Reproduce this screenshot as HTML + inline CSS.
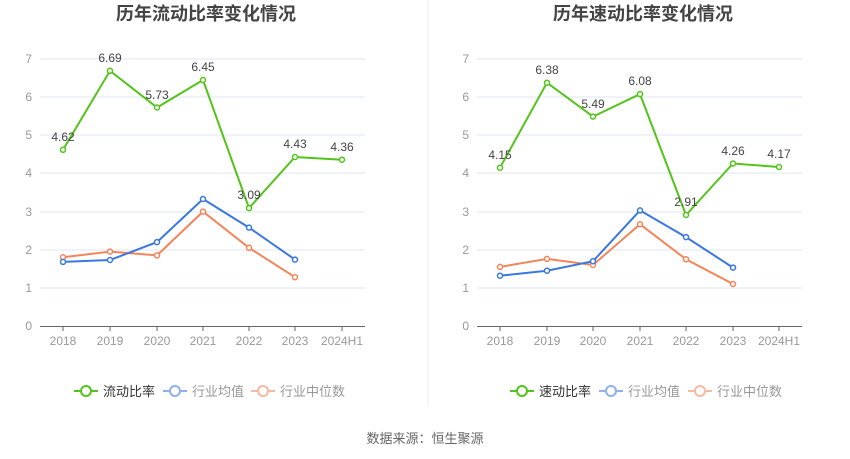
<!DOCTYPE html>
<html><head><meta charset="utf-8"><style>
body{margin:0;background:#fff}
svg{display:block;font-family:"Liberation Sans","Noto Sans CJK SC",sans-serif}
</style></head><body>
<svg width="850" height="459" viewBox="0 0 850 459" xmlns="http://www.w3.org/2000/svg">
<rect width="850" height="459" fill="#fff"/>
<line x1="428" y1="0" x2="428" y2="406" stroke="#eee" stroke-width="1"/>
<g font-weight="bold" font-size="18" fill="#444" text-anchor="middle">
<text x="206" y="20">历年流动比率变化情况</text>
<text x="643" y="20">历年速动比率变化情况</text>
</g>
<g id="grids" stroke="#dfe4f1" stroke-width="1">
<line x1="40" x2="365" y1="288" y2="288"/><line x1="40" x2="365" y1="250" y2="250"/><line x1="40" x2="365" y1="212" y2="212"/><line x1="40" x2="365" y1="173" y2="173"/><line x1="40" x2="365" y1="135" y2="135"/><line x1="40" x2="365" y1="97" y2="97"/><line x1="40" x2="365" y1="59" y2="59"/>
<line x1="477" x2="802" y1="288" y2="288"/><line x1="477" x2="802" y1="250" y2="250"/><line x1="477" x2="802" y1="212" y2="212"/><line x1="477" x2="802" y1="173" y2="173"/><line x1="477" x2="802" y1="135" y2="135"/><line x1="477" x2="802" y1="97" y2="97"/><line x1="477" x2="802" y1="59" y2="59"/>
</g>
<g stroke="#666" stroke-width="1">
<line x1="40" x2="365" y1="326.5" y2="326.5"/><line x1="477" x2="802" y1="326.5" y2="326.5"/>
<path d="M63 326v5M110 326v5M157 326v5M203 326v5M249 326v5M295 326v5M342 326v5M500 326v5M547 326v5M593 326v5M640 326v5M686 326v5M733 326v5M779 326v5"/>
</g>
<g font-size="12" fill="#999" text-anchor="end">
<text x="32" y="330">0</text><text x="32" y="292">1</text><text x="32" y="254">2</text><text x="32" y="216">3</text><text x="32" y="177">4</text><text x="32" y="139">5</text><text x="32" y="101">6</text><text x="32" y="63">7</text>
<text x="469" y="330">0</text><text x="469" y="292">1</text><text x="469" y="254">2</text><text x="469" y="216">3</text><text x="469" y="177">4</text><text x="469" y="139">5</text><text x="469" y="101">6</text><text x="469" y="63">7</text>
</g>
<g font-size="12" fill="#999" text-anchor="middle">
<text x="63" y="345">2018</text><text x="110" y="345">2019</text><text x="157" y="345">2020</text><text x="203" y="345">2021</text><text x="249" y="345">2022</text><text x="295" y="345">2023</text><text x="342" y="345">2024H1</text>
<text x="500" y="345">2018</text><text x="547" y="345">2019</text><text x="593" y="345">2020</text><text x="640" y="345">2021</text><text x="686" y="345">2022</text><text x="733" y="345">2023</text><text x="779" y="345">2024H1</text>
</g>
<g fill="none" stroke-width="2">
<polyline stroke="#f5845a" points="63,257.3 110,251.6 157,255.4 203,211.6 249,247.8 295,277.2"/>
<polyline stroke="#3a78e0" points="63,261.9 110,260 157,242.1 203,199 249,227.6 295,259.6"/>
<polyline stroke="#52c41a" points="63,149.8 110,70.8 157,107.5 203,80 249,208.1 295,157 342,159.7"/>
<polyline stroke="#f5845a" points="500,266.9 547,258.9 593,265 640,224.2 686,259.3 733,284"/>
<polyline stroke="#3a78e0" points="500,275.7 547,270.7 593,261.2 640,210.4 686,237.1 733,267.6"/>
<polyline stroke="#52c41a" points="500,167.7 547,82.7 593,116.6 640,94.1 686,215 733,163.5 779,167"/>
</g>
<g fill="#fff" stroke-width="1.5">
<g stroke="#f5845a"><circle cx="63" cy="257.3" r="2.5"/><circle cx="110" cy="251.6" r="2.5"/><circle cx="157" cy="255.4" r="2.5"/><circle cx="203" cy="211.6" r="2.5"/><circle cx="249" cy="247.8" r="2.5"/><circle cx="295" cy="277.2" r="2.5"/>
<circle cx="500" cy="266.9" r="2.5"/><circle cx="547" cy="258.9" r="2.5"/><circle cx="593" cy="265" r="2.5"/><circle cx="640" cy="224.2" r="2.5"/><circle cx="686" cy="259.3" r="2.5"/><circle cx="733" cy="284" r="2.5"/></g>
<g stroke="#3a78e0"><circle cx="63" cy="261.9" r="2.5"/><circle cx="110" cy="260" r="2.5"/><circle cx="157" cy="242.1" r="2.5"/><circle cx="203" cy="199" r="2.5"/><circle cx="249" cy="227.6" r="2.5"/><circle cx="295" cy="259.6" r="2.5"/>
<circle cx="500" cy="275.7" r="2.5"/><circle cx="547" cy="270.7" r="2.5"/><circle cx="593" cy="261.2" r="2.5"/><circle cx="640" cy="210.4" r="2.5"/><circle cx="686" cy="237.1" r="2.5"/><circle cx="733" cy="267.6" r="2.5"/></g>
<g stroke="#52c41a"><circle cx="63" cy="149.8" r="2.5"/><circle cx="110" cy="70.8" r="2.5"/><circle cx="157" cy="107.5" r="2.5"/><circle cx="203" cy="80" r="2.5"/><circle cx="249" cy="208.1" r="2.5"/><circle cx="295" cy="157" r="2.5"/><circle cx="342" cy="159.7" r="2.5"/>
<circle cx="500" cy="167.7" r="2.5"/><circle cx="547" cy="82.7" r="2.5"/><circle cx="593" cy="116.6" r="2.5"/><circle cx="640" cy="94.1" r="2.5"/><circle cx="686" cy="215" r="2.5"/><circle cx="733" cy="163.5" r="2.5"/><circle cx="779" cy="167" r="2.5"/></g>
</g>
<g font-size="12" fill="#444" text-anchor="middle">
<text x="63" y="141">4.62</text><text x="110" y="62">6.69</text><text x="157" y="99">5.73</text><text x="203" y="71">6.45</text><text x="249" y="199">3.09</text><text x="295" y="148">4.43</text><text x="342" y="151">4.36</text>
<text x="500" y="159">4.15</text><text x="547" y="74">6.38</text><text x="593" y="108">5.49</text><text x="640" y="85">6.08</text><text x="686" y="206">2.91</text><text x="733" y="155">4.26</text><text x="779" y="158">4.17</text>
</g>
<g stroke-width="2" fill="#fff">
<line x1="74" x2="98" y1="391" y2="391" stroke="#52c41a"/><circle cx="86" cy="391" r="5" stroke="#52c41a"/>
<line x1="163" x2="187" y1="391" y2="391" stroke="#8fb0f0"/><circle cx="175" cy="391" r="5" stroke="#8fb0f0"/>
<line x1="251" x2="275" y1="391" y2="391" stroke="#f9b9a0"/><circle cx="263" cy="391" r="5" stroke="#f9b9a0"/>
<line x1="510" x2="534" y1="391" y2="391" stroke="#52c41a"/><circle cx="522" cy="391" r="5" stroke="#52c41a"/>
<line x1="599" x2="623" y1="391" y2="391" stroke="#8fb0f0"/><circle cx="611" cy="391" r="5" stroke="#8fb0f0"/>
<line x1="688" x2="712" y1="391" y2="391" stroke="#f9b9a0"/><circle cx="700" cy="391" r="5" stroke="#f9b9a0"/>
</g>
<g font-size="13">
<text x="103" y="396" fill="#333">流动比率</text><text x="192" y="396" fill="#999">行业均值</text><text x="280" y="396" fill="#999">行业中位数</text>
<text x="539" y="396" fill="#333">速动比率</text><text x="628" y="396" fill="#999">行业均值</text><text x="717" y="396" fill="#999">行业中位数</text>
</g>
<text x="425" y="443" font-size="13" fill="#666" text-anchor="middle">数据来源：恒生聚源</text>
</svg>
</body></html>
